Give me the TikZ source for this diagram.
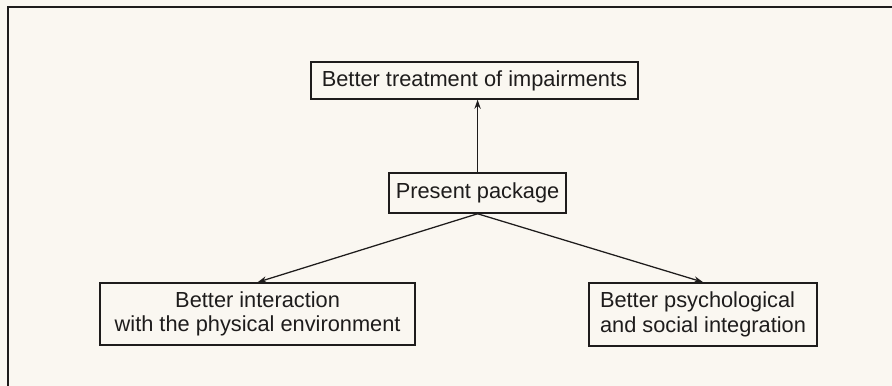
\documentclass[tikz,border=0pt]{standalone}
\usepackage{fontspec}
\setmainfont{Liberation Sans}
\usetikzlibrary{arrows.meta}
\definecolor{paper}{HTML}{FAF7F1}
\definecolor{ink}{HTML}{1E1C1C}
\tikzstyle{box} = [rectangle, minimum height=0.95cm, text centered, draw=ink, line width=1.1pt, fill=none, font=\fontsize{15.5}{17.5}\selectfont, text=ink, inner sep=0pt]
\tikzstyle{frame} = [draw=ink, line width=1.4pt]
\tikzstyle{arrow} = [draw=ink, line width=0.9pt,-{Stealth[length=6.5pt,width=4.5pt]}]

\begin{document}
\begin{tikzpicture}
					\fill[paper] (0,0) rectangle (22.3,-9.65);
					\useasboundingbox (0,0) rectangle (22.3,-9.65);
					\draw[frame] (22.3,-0.175) -- (0.19,-0.175) -- (0.19,-9.65);
					\node[box, minimum width=8.175cm, minimum height=0.925cm] (impair) at (11.86,-2.01) {Better treatment of impairments};
					\node[box, minimum width=4.425cm, minimum height=1.0cm] (present) at (11.94,-4.825) {Present package};
					\node[box, minimum width=7.875cm, minimum height=1.55cm, align=center] (physical) at (6.44,-7.85) {Better interaction\\with the physical environment};
					\node[box, minimum width=5.7cm, minimum height=1.575cm, align=left] (social) at (17.575,-7.86) {Better psychological\\and social integration};
					\draw[arrow] (present.north) -- (present.north |- impair.south);
					\draw[arrow] (present.south) -- (physical.north);
					\draw[arrow] (present.south) -- (social.north);
					\end{tikzpicture}
\end{document}
